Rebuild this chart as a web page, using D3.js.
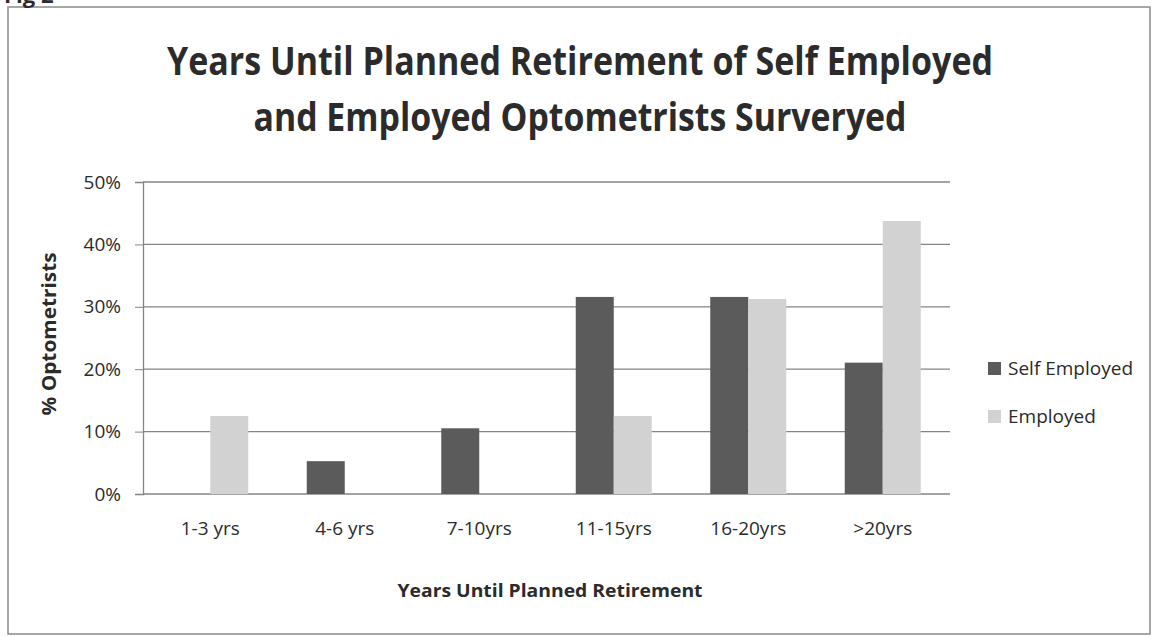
<!DOCTYPE html>
<html>
<head>
<meta charset="utf-8">
<script src="https://cdn.jsdelivr.net/npm/d3@7"></script>
<style>
  html, body { margin: 0; padding: 0; background: #fff; }
  svg { display: block; }
  text { font-family: "Open Sans", "Noto Sans", sans-serif; fill: #2b2b2b; }
</style>
</head>
<body>
<svg id="chart" width="1157" height="636"></svg>
<script>
// Share of surveyed optometrists by years until planned retirement
const categories = ["1-3 yrs", "4-6 yrs", "7-10yrs", "11-15yrs", "16-20yrs", ">20yrs"];
const seriesNames = ["Self Employed", "Employed"];
const selfEmployed = [0, 0.0526, 0.1053, 0.3158, 0.3158, 0.2105];
const employed = [0.125, 0, 0, 0.125, 0.3125, 0.4375];
const yTicks = [0, 0.1, 0.2, 0.3, 0.4, 0.5];
const titleLines = ["Years Until Planned Retirement of Self Employed", "and Employed Optometrists Surveryed"];

const colors = { "Self Employed": "#5b5b5b", "Employed": "#d2d2d2" };

const svg = d3.select("#chart");

// Frame around the chart area
svg.append("rect")
  .attr("x", 8).attr("y", 7).attr("width", 1142).attr("height", 627)
  .attr("fill", "none").attr("stroke", "#8a8a8a").attr("stroke-width", 1.5);

// Caption above the frame (mostly cut off at the page top)
svg.append("text").attr("x", 4).attr("y", 3)
  .attr("font-size", 22).attr("font-weight", "bold").attr("fill", "#444")
  .text("Fig 2");

// Title
const titleY = [75, 131];
const titleW = [826, 653];
titleLines.forEach((t, i) => {
  svg.append("text")
    .attr("x", 580).attr("y", titleY[i])
    .attr("text-anchor", "middle")
    .attr("font-size", 40).attr("font-weight", "bold").attr("fill", "#333")
    .attr("textLength", titleW[i]).attr("lengthAdjust", "spacingAndGlyphs")
    .text(t);
});

const plot = { left: 143, right: 950, top: 182, bottom: 494 };

const x0 = d3.scaleBand().domain(categories)
  .range([plot.left, plot.right]).paddingInner(0.435).paddingOuter(0.2175);
const x1 = d3.scaleBand().domain(seriesNames).range([0, x0.bandwidth()]);
const y = d3.scaleLinear().domain([0, 0.5]).range([plot.bottom, plot.top]);

// Horizontal gridlines
svg.append("g").selectAll("line").data(yTicks).join("line")
  .attr("x1", plot.left).attr("x2", plot.right)
  .attr("y1", d => y(d)).attr("y2", d => y(d))
  .attr("stroke", "#858585").attr("stroke-width", 1.3);

// Y axis
const yAxis = svg.append("g")
  .attr("transform", `translate(${plot.left},0)`)
  .call(d3.axisLeft(y).tickValues(yTicks).tickFormat(d3.format(".0%")).tickSize(8).tickPadding(14));
yAxis.select(".domain").attr("stroke", "#858585").attr("stroke-width", 1.3);
yAxis.selectAll(".tick line").attr("stroke", "#858585");
yAxis.selectAll(".tick text")
  .attr("font-family", "'Open Sans', 'Noto Sans', sans-serif")
  .attr("font-size", 19).attr("fill", "#2b2b2b");

// Bars
const rows = categories.map((c, i) => ({ cat: c, values: [
  { key: "Self Employed", v: selfEmployed[i] },
  { key: "Employed", v: employed[i] }
]}));

svg.append("g").selectAll("g").data(rows).join("g")
  .attr("transform", d => `translate(${x0(d.cat)},0)`)
  .selectAll("rect").data(d => d.values.filter(e => e.v > 0)).join("rect")
  .attr("x", d => x1(d.key))
  .attr("width", x1.bandwidth())
  .attr("y", d => y(d.v))
  .attr("height", d => y(0) - y(d.v))
  .attr("fill", d => colors[d.key]);

// X axis category labels
const xAxis = svg.append("g")
  .attr("transform", `translate(0,${plot.bottom})`)
  .call(d3.axisBottom(x0).tickSize(0).tickPadding(28));
xAxis.select(".domain").remove();
xAxis.selectAll(".tick text")
  .attr("font-family", "'Open Sans', 'Noto Sans', sans-serif")
  .attr("font-size", 19).attr("fill", "#2b2b2b");

// Axis titles
svg.append("text")
  .attr("x", 550).attr("y", 597)
  .attr("text-anchor", "middle")
  .attr("font-size", 18).attr("font-weight", "bold")
  .attr("textLength", 305).attr("lengthAdjust", "spacingAndGlyphs")
  .text("Years Until Planned Retirement");

svg.append("text")
  .attr("transform", "translate(56,334) rotate(-90)")
  .attr("text-anchor", "middle")
  .attr("font-size", 19).attr("font-weight", "bold")
  .attr("textLength", 163).attr("lengthAdjust", "spacingAndGlyphs")
  .text("% Optometrists");

// Legend
const legend = svg.append("g").selectAll("g").data(seriesNames).join("g")
  .attr("transform", (d, i) => `translate(988,${362 + i * 48})`);
legend.append("rect")
  .attr("width", 13).attr("height", 13)
  .attr("fill", d => colors[d]);
legend.append("text")
  .attr("x", 20).attr("y", 13)
  .attr("font-size", 19)
  .text(d => d);
</script>
</body>
</html>
